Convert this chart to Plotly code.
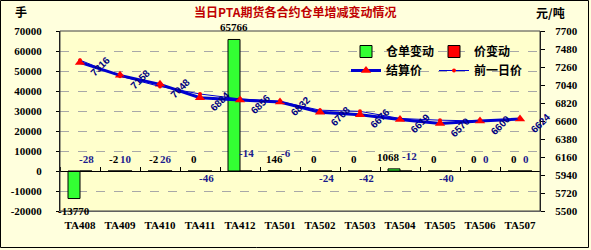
import plotly.graph_objects as go

categories = ["TA408", "TA409", "TA410", "TA411", "TA412", "TA501",
              "TA502", "TA503", "TA504", "TA505", "TA506", "TA507"]
warehouse_change = [-13770, -2, -2, 0, 65766, 146, 0, 0, 1068, 0, 0, 0]
price_change = [-28, 10, 26, -46, -14, -6, -24, -42, -12, -40, 0, 0]
settle_price = [7316, 7158, 7048, 6884, 6856, 6832, 6708, 6676, 6619, 6570, 6600, 6624]
prev_price = [7344, 7148, 7022, 6930, 6870, 6838, 6732, 6718, 6631, 6610, 6600, 6624]
left_ticks = [-20000, -10000, 0, 10000, 20000, 30000, 40000, 50000, 60000, 70000]
right_ticks = [5500, 5720, 5940, 6160, 6380, 6600, 6820, 7040, 7260, 7480, 7700]

# label placement styles (not data)
price_label_side = ["up", "up", "up", "down", "up2", "up2", "down", "down", "up3", "down", "up", "up"]
wh_label_dx = [-6, -6, -6, -6, -6, -6, -6, -6, -12, -6, -6, -6]

W, H = 591, 250
ML, MR, MT, MB = 60, 51, 31, 39
PW, PH = W - ML - MR, H - MT - MB

def px_x(p):
    return (p - ML) / PW

def px_y(p):
    return (H - MB - p) / PH

BOLD = dict(family="Liberation Serif", size=11, color="#000000", weight="bold")
CJK = "Noto Sans CJK SC"

fig = go.Figure()
fig.add_trace(go.Bar(x=categories, y=warehouse_change, name="仓单变动",
                     marker=dict(color="#33FF33", line=dict(color="#000000", width=1)),
                     legend="legend", hoverinfo="skip"))
fig.add_trace(go.Bar(x=categories, y=price_change, name="价变动",
                     marker=dict(color="#FF0000", line=dict(color="#000000", width=1)),
                     legend="legend", hoverinfo="skip"))
fig.add_trace(go.Scatter(x=categories, y=settle_price, name="结算价", yaxis="y2",
                         mode="lines+markers",
                         line=dict(color="#0000D0", width=3),
                         marker=dict(symbol="triangle-up", size=9, color="#FF0000"),
                         legend="legend2", hoverinfo="skip"))
fig.add_trace(go.Scatter(x=categories, y=prev_price, name="前一日价", yaxis="y2",
                         mode="lines+markers",
                         line=dict(color="#0000D0", width=1),
                         marker=dict(symbol="circle", size=4, color="#FF0000"),
                         legend="legend2", hoverinfo="skip"))
# helper trace for the zero-line category axis
fig.add_trace(go.Scatter(x=categories, y=[0] * len(categories), xaxis="x2",
                         mode="markers", marker=dict(opacity=0),
                         showlegend=False, hoverinfo="skip"))

ann = []
for c, v, dx in zip(categories, warehouse_change, wh_label_dx):
    if v < -1000:
        ann.append(dict(x=c, y=v, yref="y", text=str(v), showarrow=False,
                        xshift=dx, yshift=-12, font=BOLD))
    else:
        ann.append(dict(x=c, y=v, yref="y", text=str(v), showarrow=False,
                        xshift=dx, yshift=12, font=BOLD))
for c, v, s in zip(categories, price_change, price_label_side):
    ys = {"up": 12, "up2": 18, "up3": 15, "down": -7}[s]
    xs = 9 if s == "up3" else 6
    ann.append(dict(x=c, y=0, yref="y", text=str(v), showarrow=False,
                    xshift=xs, yshift=ys,
                    font=dict(family="Liberation Serif", size=11, color="#1A1A8C", weight="bold")))
for c, v in zip(categories, settle_price):
    ann.append(dict(x=c, y=v, yref="y2", text=str(v), showarrow=False,
                    textangle=-45, xshift=20, yshift=-4,
                    font=dict(family="Liberation Sans", size=10, color="#000080", weight="bold")))

ann.append(dict(xref="paper", yref="paper", x=px_x(295), y=px_y(12), yanchor="middle",
                text="当日PTA期货各合约仓单增减变动情况", showarrow=False,
                font=dict(family=CJK, size=12, color="#C00000", weight="bold")))
ann.append(dict(xref="paper", yref="paper", x=px_x(13), y=px_y(12), yanchor="middle",
                text="手", showarrow=False,
                font=dict(family=CJK, size=12, color="#000000", weight="bold")))
ann.append(dict(xref="paper", yref="paper", x=px_x(567), y=px_y(13), yanchor="middle",
                text="元/吨", showarrow=False,
                font=dict(family=CJK, size=12, color="#000000", weight="bold")))

shapes = [
    dict(type="rect", xref="paper", yref="paper", x0=px_x(0.5), x1=px_x(588.5),
         y0=px_y(247.5), y1=px_y(0.5), line=dict(color="#000000", width=1), layer="below"),
    dict(type="rect", xref="paper", yref="paper", x0=0, x1=1, y0=0, y1=1,
         line=dict(color="#404040", width=1), layer="above"),
]

fig.update_layout(
    width=W, height=H,
    margin=dict(l=ML, r=MR, t=MT, b=MB),
    paper_bgcolor="#FFFFDD",
    plot_bgcolor="#FFFFCC",
    barmode="group", bargap=0.4, bargroupgap=0,
    font=dict(family="Liberation Serif", size=11, color="#000000"),
    xaxis=dict(type="category", categoryarray=categories, range=[-0.5, 11.5],
               showline=True, linecolor="#808080", linewidth=1, showgrid=False,
               ticks="", tickfont=BOLD, ticklabelstandoff=4, zeroline=False),
    xaxis2=dict(type="category", categoryarray=categories, range=[-0.5, 11.5],
                overlaying="x", anchor="free", position=20000 / 90000, side="top",
                showline=True, linecolor="#000000", linewidth=1,
                ticks="outside", ticklen=4, tickcolor="#000000", tickson="boundaries",
                showticklabels=False, showgrid=False, zeroline=False),
    yaxis=dict(range=[-20000, 70000], tickvals=left_ticks, ticktext=[str(t) for t in left_ticks],
               showline=True, linecolor="#000000", linewidth=1,
               ticks="outside", ticklen=3, tickcolor="#000000",
               showgrid=True, gridcolor="#A8A8A8", griddash="dash", gridwidth=1,
               zeroline=False, tickfont=BOLD, ticklabelstandoff=12),
    yaxis2=dict(range=[5500, 7700], tickvals=right_ticks, ticktext=[str(t) for t in right_ticks],
                overlaying="y", side="right",
                showline=True, linecolor="#000000", linewidth=1,
                ticks="outside", ticklen=4, tickcolor="#000000",
                showgrid=False, zeroline=False, tickfont=BOLD, ticklabelstandoff=8),
    legend=dict(orientation="h", x=px_x(346), y=px_y(37), xanchor="left", yanchor="top",
                bgcolor="rgba(0,0,0,0)", entrywidth=43, entrywidthmode="pixels",
                font=dict(family=CJK, size=12, color="#000000", weight="bold"),
                itemwidth=30, traceorder="normal"),
    legend2=dict(orientation="h", x=px_x(346), y=px_y(56), xanchor="left", yanchor="top",
                 bgcolor="rgba(0,0,0,0)", entrywidth=43, entrywidthmode="pixels",
                 font=dict(family=CJK, size=12, color="#000000", weight="bold"),
                 itemwidth=30, traceorder="normal"),
    annotations=ann,
    shapes=shapes,
    showlegend=True,
)

fig.write_html("out.html")
